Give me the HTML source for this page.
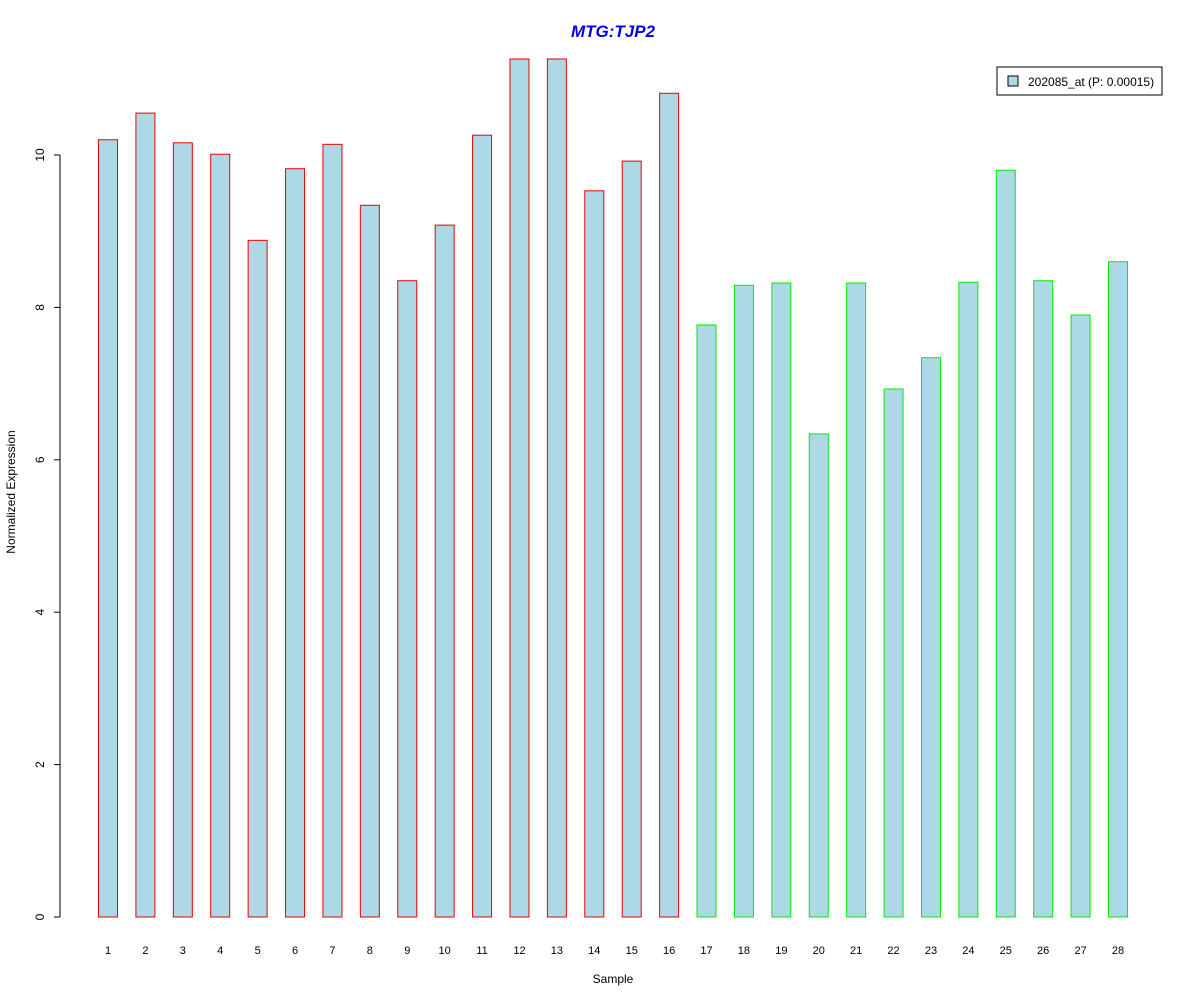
<!DOCTYPE html>
<html><head><meta charset="utf-8"><style>
body{margin:0;background:#fff;}
svg{display:block;font-family:"Liberation Sans",Arial,sans-serif;}
</style></head><body>
<svg id="chart" width="1200" height="1000" xmlns="http://www.w3.org/2000/svg">
<rect width="1200" height="1000" fill="#fff"/>
<text x="613" y="37" text-anchor="middle" font-size="17" font-weight="bold" font-style="italic" fill="#0000ee">MTG:TJP2</text>
<text x="613" y="983" text-anchor="middle" font-size="12">Sample</text>
<text transform="translate(15,492) rotate(-90)" text-anchor="middle" font-size="12">Normalized Expression</text>
<g id="axis"></g>
<g id="bars"></g>
<g>
<rect x="997" y="67" width="165" height="28" fill="#fff" stroke="#000"/>
<rect x="1008" y="76" width="10" height="10" fill="#add8e6" stroke="#000"/>
<text x="1028" y="86" font-size="12">202085_at (P: 0.00015)</text>
</g>
</svg>
<script>
const categories=["1","2","3","4","5","6","7","8","9","10","11","12","13","14","15","16","17","18","19","20","21","22","23","24","25","26","27","28"];
const values=[10.20,10.55,10.16,10.01,8.88,9.82,10.14,9.34,8.35,9.08,10.26,11.26,11.26,9.53,9.92,10.81,7.77,8.29,8.32,6.34,8.32,6.93,7.34,8.33,9.80,8.35,7.90,8.60];
const groups=["a","a","a","a","a","a","a","a","a","a","a","a","a","a","a","a","b","b","b","b","b","b","b","b","b","b","b","b"];
const yTicks=[0,2,4,6,8,10];
const NS="http://www.w3.org/2000/svg";
const y=v=>917-v*76.2;
const x=i=>108+i*(1118-108)/(categories.length-1);
function mk(t,a,p){const e=document.createElementNS(NS,t);for(const k in a)e.setAttribute(k,a[k]);p.appendChild(e);return e;}
const ax=document.getElementById('axis');
const al=mk('line',{x1:60,x2:60,y1:y(0),y2:y(10),stroke:'#000'},ax);


yTicks.forEach(t=>{
 const l=mk('line',{x1:54,x2:60,y1:y(t),y2:y(t),stroke:'#000'},ax);
 
 
 const tx=mk('text',{transform:`translate(44,${y(t)}) rotate(-90)`,'text-anchor':'middle','font-size':12},ax);
 tx.textContent=t;
 
 
});
const bg=document.getElementById('bars');
values.forEach((v,i)=>{
 const r=mk('rect',{x:x(i)-9.5,y:y(v),width:19,height:y(0)-y(v),fill:'#add8e6',stroke:groups[i]==='a'?'#ee0000':'#00ee00'},bg);
 
 
 const t=mk('text',{x:x(i),y:954,'text-anchor':'middle','font-size':11},bg);
 t.textContent=categories[i];
 
 
});
</script>
</body></html>
